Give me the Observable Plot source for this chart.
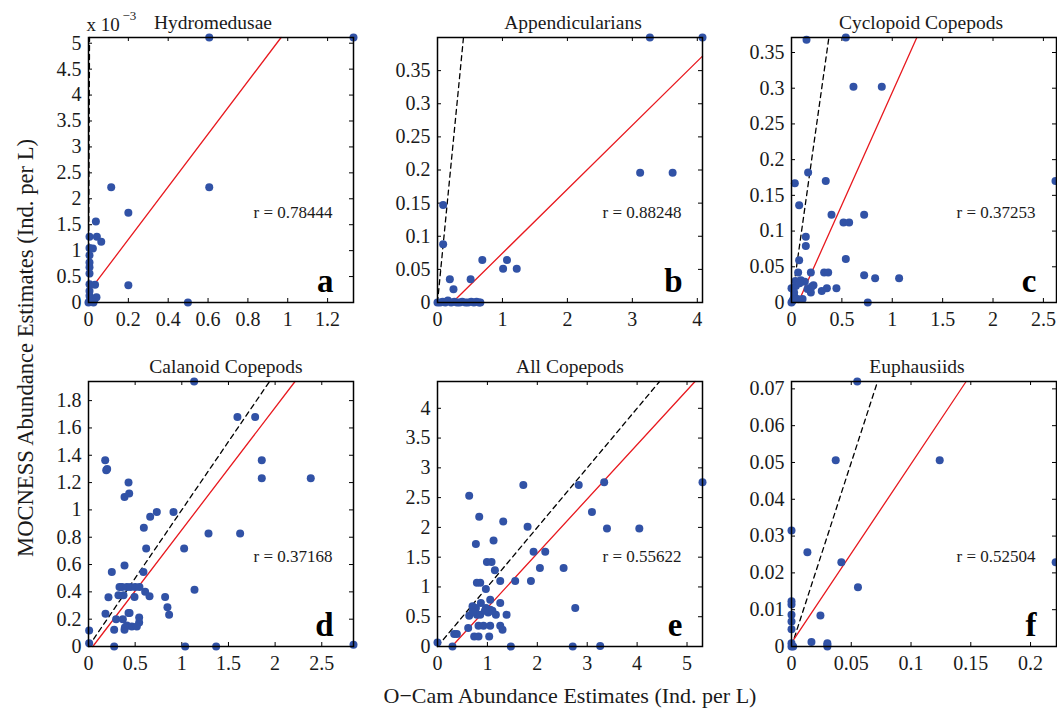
<!DOCTYPE html>
<html><head><meta charset="utf-8">
<script src="https://cdn.jsdelivr.net/npm/d3@7"></script>
<script src="https://cdn.jsdelivr.net/npm/@observablehq/plot@0.6"></script>
<style>
body{margin:0;background:#fff;overflow:hidden;}
#wrap{position:relative;width:1057px;height:709px;overflow:hidden;font-family:"Liberation Serif","Times New Roman",serif;}
#wrap svg.plot{position:absolute;}
</style></head><body><div id="wrap"></div>
<script>
// ---- data ----
const titles = ["Hydromedusae","Appendicularians","Cyclopoid Copepods","Calanoid Copepods","All Copepods","Euphausiids"];
const letters = ["a","b","c","d","e","f"];
const rLabels = ["r = 0.78444","r = 0.88248","r = 0.37253","r = 0.37168","r = 0.55622","r = 0.52504"];
const xLabel = "O\u2212Cam Abundance Estimates (Ind. per L)";
const yLabel = "MOCNESS Abundance Estimates (Ind. per L)";

const hydromedusae = [[0.606,0.00511],[1.33,0.00511],[0.114,0.00222],[0.606,0.00222],[0.2,0.00173],[0.037,0.00156],[0.005,0.00127],[0.042,0.00127],[0.064,0.00117],[0.005,0.00105],[0.022,0.00104],[0.005,0.00091],[0.005,0.00077],[0.005,0.00068],[0.005,0.00056],[0.005,0.00035],[0.033,0.00034],[0.2,0.000335],[0.005,0.00022],[0.005,0.00013],[0.005,0.00003],[0.03,0.00006],[0.04,0.0001],[0.499,0],[0,0],[0.025,0]];
const appendicularians = [[3.27,0.4],[4.08,0.4],[3.12,0.196],[3.62,0.196],[0.087,0.147],[0.087,0.088],[0.69,0.064],[1.07,0.064],[1.01,0.051],[1.22,0.051],[0.19,0.035],[0.51,0.035],[0.246,0.02],[0,0],[0.04,0],[0.08,0.001],[0.12,0],[0.16,0.003],[0.21,0],[0.26,0.001],[0.3,0],[0.34,0],[0.38,0.001],[0.43,0],[0.47,0],[0.52,0.001],[0.56,0],[0.6,0.001],[0.64,0],[0.66,0]];
const cyclopoid = [[0.149,0.368],[0.539,0.371],[0.615,0.302],[0.896,0.302],[2.62,0.170],[0.033,0.167],[0.34,0.170],[0.165,0.182],[0.076,0.136],[0.397,0.123],[0.721,0.123],[0.516,0.112],[0.572,0.112],[0.142,0.092],[0.142,0.079],[0.076,0.059],[0.539,0.061],[0.066,0.042],[0.192,0.042],[0.324,0.042],[0.364,0.042],[0.721,0.038],[0.83,0.034],[1.068,0.034],[0.446,0.020],[0.351,0.020],[0.30,0.016],[0.192,0.014],[0.218,0.024],[0.093,0.031],[0.132,0.029],[0,0.020],[0.043,0.023],[0.026,0.009],[0.01,0.002],[0.06,0.005],[0.11,0.005],[0.757,0],[0,0],[0.026,0.014],[0.159,0.019],[0.2,0.022],[0.04,0.03],[0.08,0.027],[0.02,0.005]];
const calanoid = [[1.132,1.94],[1.596,1.68],[1.786,1.68],[1.857,1.364],[1.857,1.232],[2.382,1.232],[0.179,1.364],[0.19,1.29],[0.2,1.30],[0.429,1.2],[0.386,1.095],[0.436,1.12],[0.661,0.95],[0.732,0.985],[0.911,0.985],[0.593,0.87],[1.286,0.828],[1.625,0.828],[0.618,0.718],[1.025,0.718],[0.25,0.546],[0.386,0.593],[0.589,0.546],[1.136,0.416],[0.332,0.436],[0.36,0.436],[0.411,0.436],[0.45,0.436],[0.5,0.436],[0.546,0.436],[0.321,0.375],[0.375,0.375],[0.214,0.36],[0.493,0.362],[0.607,0.4],[0.654,0.367],[0.821,0.362],[0.846,0.287],[0.864,0.233],[0.182,0.24],[0.429,0.245],[0.44,0.245],[0.296,0.2],[0.368,0.2],[0.543,0.213],[0.543,0.176],[0.275,0.122],[0.386,0.122],[0.411,0.154],[0.464,0.147],[0.518,0.147],[0.39,0.14],[0.007,0.118],[0.007,0.024],[0.275,0],[1.036,0],[1.368,0],[2.84,0.012]];
const allCopepods = [[5.31,2.76],[3.34,2.76],[2.83,2.71],[1.72,2.71],[0.635,2.53],[3.095,2.26],[0.836,2.18],[1.317,2.1],[1.805,2.01],[3.396,1.98],[4.044,1.98],[0.769,1.72],[1.123,1.78],[1.925,1.59],[2.159,1.59],[0.99,1.42],[1.083,1.42],[1.15,1.28],[2.052,1.32],[2.527,1.32],[0.789,1.07],[0.856,1.07],[1.257,1.1],[1.557,1.1],[1.872,1.1],[0.969,0.966],[1.056,0.787],[0.869,0.73],[1.257,0.73],[0.702,0.674],[0.77,0.646],[1.056,0.618],[2.76,0.646],[0.635,0.517],[0.79,0.534],[0.856,0.534],[0.97,0.646],[1.17,0.534],[1.384,0.534],[0.615,0.309],[0.822,0.348],[0.922,0.348],[1.056,0.348],[1.257,0.348],[1.303,0.281],[0.735,0.169],[0.822,0.169],[1.036,0.169],[0.334,0.208],[0.388,0.208],[0,0.067],[0.3,0],[1.47,0],[2.71,0],[3.26,0.01],[1.016,0.573],[0.7,0.58],[1.1,0.6],[0.95,0.6]];
const euphausiids = [[0.055,0.072],[0.037,0.0506],[0.124,0.0506],[0,0.0315],[0.0133,0.0256],[0.0417,0.0229],[0.221,0.0229],[0.0556,0.0161],[0,0.0123],[0,0.0114],[0,0.0086],[0,0.0068],[0,0.0047],[0.0242,0.0084],[0.0167,0.0012],[0.03,0.0009],[0.03,0],[0,0.0009],[0,0],[0.0014,0],[0.03,0.0004]];

const datasets = [hydromedusae, appendicularians, cyclopoid, calanoid, allCopepods, euphausiids];
const xMax = [1.33, 4.08, 2.63, 2.84, 5.31, 0.2217];
const yMax = [0.00511, 0.4, 0.371, 1.94, 4.45, 0.072];
// fitted regression lines (red): intercept, slope
const fitIntercept = [0.0002, -0.0222, -0.0208, -0.041, -0.262, 0.001];
const fitSlope = [0.00508, 0.0966, 0.315, 0.895, 0.913, 0.486];

const xTicks = [[0,0.2,0.4,0.6,0.8,1,1.2],[0,1,2,3,4],[0,0.5,1,1.5,2,2.5],[0,0.5,1,1.5,2,2.5],[0,1,2,3,4,5],[0,0.05,0.1,0.15,0.2]];
const xTickLabels = [["0","0.2","0.4","0.6","0.8","1","1.2"],["0","1","2","3","4"],["0","0.5","1","1.5","2","2.5"],["0","0.5","1","1.5","2","2.5"],["0","1","2","3","4","5"],["0","0.05","0.1","0.15","0.2"]];
const yTicks = [[0,0.0005,0.001,0.0015,0.002,0.0025,0.003,0.0035,0.004,0.0045,0.005],[0,0.05,0.1,0.15,0.2,0.25,0.3,0.35],[0,0.05,0.1,0.15,0.2,0.25,0.3,0.35],[0,0.2,0.4,0.6,0.8,1,1.2,1.4,1.6,1.8],[0,0.5,1,1.5,2,2.5,3,3.5,4],[0,0.01,0.02,0.03,0.04,0.05,0.06,0.07]];
const yTickLabels = [["0","0.5","1","1.5","2","2.5","3","3.5","4","4.5","5"],["0","0.05","0.1","0.15","0.2","0.25","0.3","0.35"],["0","0.05","0.1","0.15","0.2","0.25","0.3","0.35"],["0","0.2","0.4","0.6","0.8","1","1.2","1.4","1.6","1.8"],["0","0.5","1","1.5","2","2.5","3","3.5","4"],["0","0.01","0.02","0.03","0.04","0.05","0.06","0.07"]];
const titleDx = [-8, 3, -3, 5, 0, -7];

// ---- layout ----
const panelLeft = [88, 437, 791, 88, 437, 791];
const panelTop = [37, 37, 37, 381, 381, 381];
const W = 265, H = 265, ML = 60, MR = 14, MT = 48, MB = 36;
const FONT = "'Liberation Serif', 'Times New Roman', serif";
const INK = "#1a1a1a";
const wrap = document.getElementById("wrap");

// global axis labels
const ns = "http://www.w3.org/2000/svg";
const ov = document.createElementNS(ns, "svg");
ov.setAttribute("width", 1057); ov.setAttribute("height", 709);
ov.style.position = "absolute"; ov.style.left = "0"; ov.style.top = "0";
ov.style.fontFamily = FONT;
const tY = document.createElementNS(ns, "text");
tY.setAttribute("transform", "translate(33,348) rotate(-90)");
tY.setAttribute("text-anchor", "middle"); tY.setAttribute("font-size", 22.6); tY.setAttribute("fill", INK);
tY.textContent = yLabel; ov.appendChild(tY);
const tX = document.createElementNS(ns, "text");
tX.setAttribute("x", 570); tX.setAttribute("y", 703);
tX.setAttribute("text-anchor", "middle"); tX.setAttribute("font-size", 22); tX.setAttribute("fill", INK);
tX.textContent = xLabel; ov.appendChild(tX);
wrap.appendChild(ov);

for (let i = 0; i < 6; i++) {
  const xm = xMax[i], ym = yMax[i];
  const b = fitIntercept[i], m = fitSlope[i];
  const x0 = Math.max(0, -b / m), x1 = Math.min(xm, (ym - b) / m);
  const fitLine = [[x0, b + m * x0], [x1, b + m * x1]];
  const d1 = Math.min(xm, ym);
  const oneToOne = [[0, 0], [d1, d1]];
  const xl = new Map(xTicks[i].map((v, k) => [v, xTickLabels[i][k]]));
  const yl = new Map(yTicks[i].map((v, k) => [v, yTickLabels[i][k]]));
  const marks = [
    Plot.axisX(xTicks[i], {tickSize: 0, tickPadding: 9, tickFormat: d => xl.get(d), fontSize: 20, fill: INK}),
    Plot.axisY(yTicks[i], {tickSize: 0, tickPadding: 7, tickFormat: d => yl.get(d), fontSize: 20, fill: INK}),
    Plot.tickX(xTicks[i], {x: d => d, insetTop: H - 4, stroke: "black"}),
    Plot.tickX(xTicks[i], {x: d => d, insetBottom: H - 4, stroke: "black"}),
    Plot.tickY(yTicks[i], {y: d => d, insetRight: W - 4, stroke: "black"}),
    Plot.tickY(yTicks[i], {y: d => d, insetLeft: W - 4, stroke: "black"}),
    Plot.line(oneToOne, {x: d => d[0], y: d => d[1], stroke: "black", strokeWidth: 1.3, strokeDasharray: "5,4"}),
    Plot.line(fitLine, {x: d => d[0], y: d => d[1], stroke: "#e8191f", strokeWidth: 1.3}),
    Plot.dot(datasets[i], {x: d => d[0], y: d => d[1], r: 4, fill: "#3152a6"}),
    Plot.frame({stroke: "black", strokeWidth: 1.5}),
    Plot.text([titles[i]], {frameAnchor: "top", dx: titleDx[i], dy: -9, lineAnchor: "bottom", fontSize: 19.5, fill: INK}),
    Plot.text([rLabels[i]], {frameAnchor: "top-left", dx: 165, dy: 175, textAnchor: "start", lineAnchor: "middle", fontSize: 17, fill: INK}),
    Plot.text([letters[i]], {frameAnchor: "bottom-right", dx: -20, dy: -11, textAnchor: "end", lineAnchor: "bottom", fontSize: 33, fontWeight: "bold", fill: "black"})
  ];
  if (i === 0) {
    marks.push(Plot.text(["x 10"], {frameAnchor: "top-left", dx: -2, dy: -7, textAnchor: "start", lineAnchor: "bottom", fontSize: 19, fill: INK}));
    marks.push(Plot.text(["\u22123"], {frameAnchor: "top-left", dx: 34, dy: -18, textAnchor: "start", lineAnchor: "bottom", fontSize: 13, fill: INK}));
  }
  const p = Plot.plot({
    width: ML + W + MR, height: MT + H + MB,
    marginLeft: ML, marginRight: MR, marginTop: MT, marginBottom: MB,
    style: {fontFamily: FONT, fontSize: "20px", background: "transparent", overflow: "visible", color: INK},
    x: {domain: [0, xm]},
    y: {domain: [0, ym]},
    marks
  });
  p.style.left = (panelLeft[i] - ML) + "px";
  p.style.top = (panelTop[i] - MT) + "px";
  p.style.position = "absolute";
  p.style.maxWidth = "none";
  wrap.appendChild(p);
}
</script></body></html>
